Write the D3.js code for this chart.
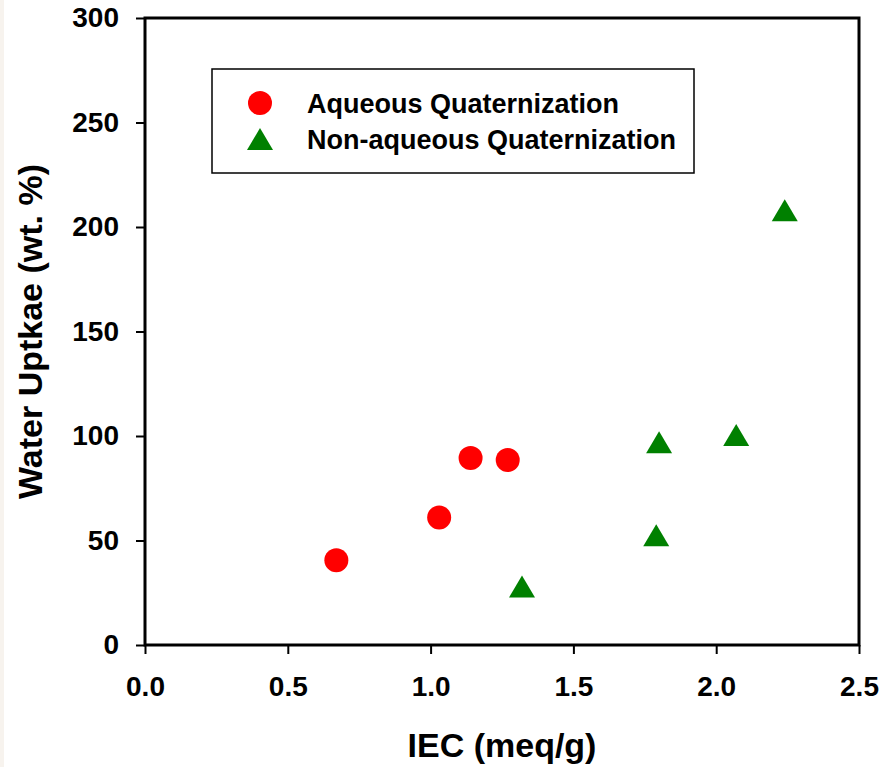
<!DOCTYPE html>
<html>
<head>
<meta charset="utf-8">
<script src="https://cdn.jsdelivr.net/npm/d3@7"></script>
<style>
  body { margin: 0; background: #fff; }
  text { font-family: "Liberation Sans", Arial, sans-serif; font-weight: bold; fill: #000; }
</style>
</head>
<body>
<div id="chart"></div>
<script>
// data
var seriesNames = ["Aqueous Quaternization", "Non-aqueous Quaternization"];
var aqIEC = [0.67, 1.03, 1.14, 1.27];
var aqWU  = [40.5, 61, 89.5, 88.5];
var naIEC = [1.32, 1.79, 1.80, 2.07, 2.24];
var naWU  = [28, 52.5, 97, 100.5, 208];
var xTicks = [0, 0.5, 1.0, 1.5, 2.0, 2.5];
var yTicks = [0, 50, 100, 150, 200, 250, 300];

var W = 885, H = 767;
var margin = {top: 18, right: 26, bottom: 122, left: 145},
    width = W - margin.left - margin.right,
    height = H - margin.top - margin.bottom;

var svg = d3.select("#chart").append("svg")
    .attr("width", W)
    .attr("height", H);

// faint strip on the left edge of the scan
svg.append("rect")
    .attr("x", 0).attr("y", 0)
    .attr("width", 4).attr("height", H)
    .attr("fill", "#f7f3ee");

var g = svg.append("g")
    .attr("transform", "translate(" + margin.left + "," + margin.top + ")");

var x = d3.scaleLinear().domain([0, 2.5]).range([0, width]);
var y = d3.scaleLinear().domain([0, 300]).range([height, 0]);

// axes
var xAxis = g.append("g")
    .attr("transform", "translate(0," + height + ")")
    .call(d3.axisBottom(x).tickValues(xTicks).tickFormat(d3.format(".1f"))
      .tickSize(9).tickPadding(22));
var yAxis = g.append("g")
    .call(d3.axisLeft(y).tickValues(yTicks).tickSize(9).tickPadding(17));

[xAxis, yAxis].forEach(function(a) {
  a.select(".domain").remove();
  a.selectAll(".tick line").attr("stroke", "#000").attr("stroke-width", 2);
  a.selectAll(".tick text")
    .attr("font-family", "Liberation Sans, Arial, sans-serif")
    .attr("font-weight", "bold")
    .attr("font-size", "28px")
    .attr("fill", "#000");
});

// frame
g.append("rect")
    .attr("x", 0).attr("y", 0)
    .attr("width", width).attr("height", height)
    .attr("fill", "none")
    .attr("stroke", "#000")
    .attr("stroke-width", 3);

// triangle path centred on its bounding box
function tri(w, h) {
  return "M0," + (-h / 2) + "L" + (w / 2) + "," + (h / 2) + "L" + (-w / 2) + "," + (h / 2) + "Z";
}

// aqueous points
g.selectAll("circle.aq")
    .data(d3.zip(aqIEC, aqWU))
    .enter().append("circle")
    .attr("class", "aq")
    .attr("cx", function(d) { return x(d[0]); })
    .attr("cy", function(d) { return y(d[1]); })
    .attr("r", 12)
    .attr("fill", "#ff0000");

// non-aqueous points
g.selectAll("path.na")
    .data(d3.zip(naIEC, naWU))
    .enter().append("path")
    .attr("class", "na")
    .attr("d", tri(26, 22))
    .attr("transform", function(d) { return "translate(" + x(d[0]) + "," + y(d[1]) + ")"; })
    .attr("fill", "#008000");

// axis titles
svg.append("text")
    .attr("x", margin.left + width / 2)
    .attr("y", 757)
    .attr("text-anchor", "middle")
    .attr("font-size", "34px")
    .text("IEC (meq/g)");

svg.append("text")
    .attr("transform", "translate(42," + (margin.top + height / 2) + ") rotate(-90)")
    .attr("text-anchor", "middle")
    .attr("font-size", "34px")
    .text("Water Uptkae (wt. %)");

// legend
var legend = svg.append("g");
legend.append("rect")
    .attr("x", 212).attr("y", 69)
    .attr("width", 482).attr("height", 104)
    .attr("fill", "#fff")
    .attr("stroke", "#000")
    .attr("stroke-width", 1.5);

legend.append("circle")
    .attr("cx", 260).attr("cy", 103)
    .attr("r", 12)
    .attr("fill", "#ff0000");
legend.append("path")
    .attr("d", tri(26, 22))
    .attr("transform", "translate(260,139)")
    .attr("fill", "#008000");

legend.selectAll("text.lg")
    .data(seriesNames)
    .enter().append("text")
    .attr("class", "lg")
    .attr("x", 307)
    .attr("y", function(d, i) { return 113 + i * 36; })
    .attr("font-size", "27px")
    .text(function(d) { return d; });
</script>
</body>
</html>
